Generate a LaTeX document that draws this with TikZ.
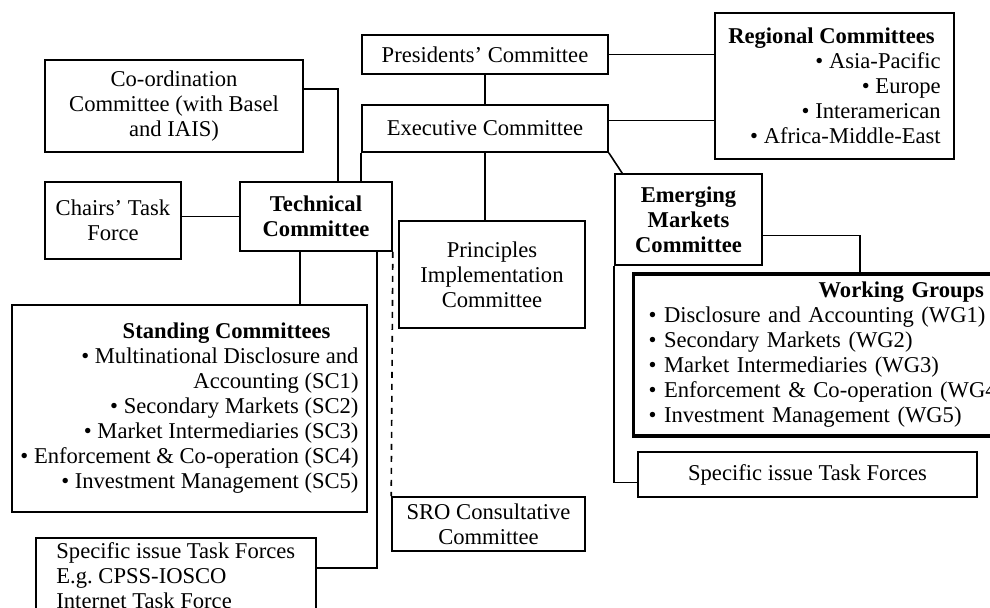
\documentclass[tikz,border=0pt]{standalone}
\usepackage{fontspec}
\setmainfont{Liberation Serif}
\frenchspacing
\tikzset{
  box/.style={draw,line width=0.8pt,inner sep=2pt,align=center,font=\fontsize{11.3}{12.5}\selectfont},
  wgbox/.style={box,line width=1.6pt},
  link/.style={line width=0.8pt},
}
\begin{document}
\begin{tikzpicture}[x=0.5pt,y=-0.5pt]
        \clip (0,0) rectangle (990,608);
        \fill[white] (0,0) rectangle (990,608);
        %% Top
        \node[box,minimum width=123pt,minimum height=19.5pt] (PC) at (485,54.5) {Presidents' Committee};
        \node[box,minimum width=123pt,minimum height=23.5pt] (EC) at (485,128.5) {Executive Committee};
        \node[box,align=right,minimum width=119.5pt,minimum height=73pt] (RC) at (834.5,86)
            {\textbf{Regional Committees}\hspace*{3pt}\\ \textbullet\ Asia-Pacific\\ \textbullet\ Europe\\ \textbullet\ Interamerican\\ \textbullet\ Africa-Middle-East};
        \node[box,minimum width=129pt,minimum height=46pt] (CC) at (174,106) {Co-ordination\\ Committee (with Basel\\ and IAIS)};
        %% Technical side
        \node[box,minimum width=68pt,minimum height=38.5pt] (CTF) at (113,220.5) {Chairs' Task\\ Force};
        \node[box,minimum width=76pt,minimum height=34.5pt] (TC) at (316,216.5) {\textbf{Technical}\\ \textbf{Committee}};
        \node[box,align=right,minimum width=177.5pt,minimum height=103.5pt] (SC) at (189.5,408.5)
            {\textbf{Standing Committees}\hspace*{14pt}\\ \textbullet\ Multinational Disclosure and\\ Accounting (SC1)\\
             \textbullet\ Secondary Markets (SC2)\\ \textbullet\ Market Intermediaries (SC3)\\
             \textbullet\ Enforcement \& Co-operation (SC4)\\ \textbullet\ Investment Management (SC5)};
        \node[box,anchor=north west,align=left,minimum width=140pt,inner ysep=2.5pt] (LTF) at (35,537)
            {Specific issue Task Forces\\ E.g. CPSS-IOSCO\\ Internet Task Force};
        %% Middle
        \node[box,minimum width=93pt,minimum height=53.5pt] (PIC) at (492,274.5) {Principles\\ Implementation\\ Committee};
        \node[box,minimum width=96.5pt,minimum height=27pt] (SRO) at (488.5,524) {SRO Consultative\\ Committee};
        %% Emerging markets side
        \node[box,minimum width=73.5pt,minimum height=45.5pt] (EM) at (688.5,219.5) {\textbf{Emerging}\\ \textbf{Markets}\\ \textbf{Committee}};
        \node[wgbox,anchor=west,align=left,text width=200pt,inner xsep=7.5pt,minimum height=81pt] (WG) at (632,355)
            {\hspace*{85pt}\textbf{Working Groups}\\ \textbullet\ Disclosure and Accounting (WG1)\\ \textbullet\ Secondary Markets (WG2)\\
             \textbullet\ Market Intermediaries (WG3)\\ \textbullet\ Enforcement \& Co-operation (WG4)\\ \textbullet\ Investment Management (WG5)};
        \node[box,minimum width=169.5pt,minimum height=22.5pt] (STF) at (807.5,474.5) {Specific issue Task Forces};
        %% Links
        \draw[link] (PC.south) -- (EC.north);
        \draw[link] (PC.east) -- (PC.east -| RC.west);
        \draw[link] ([yshift=4pt]EC.east) -- ([yshift=4pt]EC.east -| RC.west);
        \draw[link] (EC.south) -- (EC.south |- PIC.north);
        \draw[link] (EC.south east) -- ([xshift=4pt]EM.north west);
        \draw[link] (EC.south west) -- (EC.south west |- TC.north);
        \draw[link] ([yshift=8.5pt]CC.east) -| ([xshift=11pt]TC.north);
        \draw[link] (TC.west) -- (TC.west -| CTF.east);
        \draw[link] ([xshift=-8pt]TC.south) -- ([xshift=-8pt]TC.south |- SC.north);
        \draw[link] ([xshift=30.5pt]TC.south) |- ([yshift=4pt]LTF.east);
        \draw[link,dashed] (TC.south east) -- (SRO.north west);
        \draw[link] ([yshift=-8pt]EM.east) -| ([xshift=11pt]WG.north -| 838,0);
        \draw[link] (EM.south west) |- ([yshift=-4pt]STF.west);
    \end{tikzpicture}
\end{document}
